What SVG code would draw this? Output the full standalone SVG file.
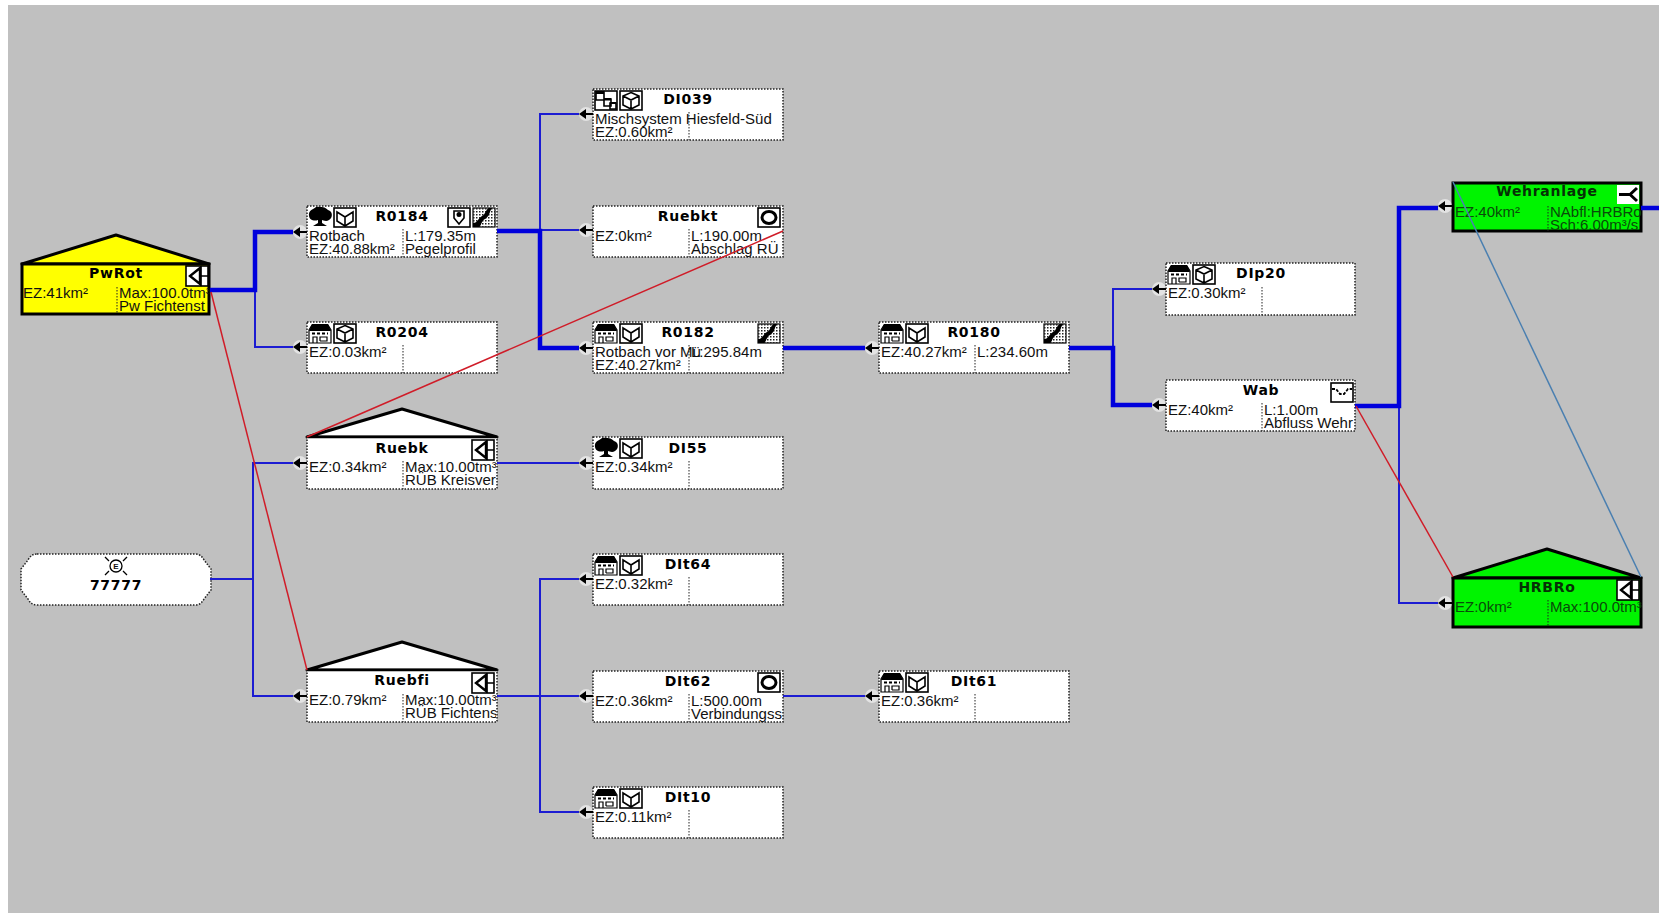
<svg xmlns="http://www.w3.org/2000/svg" width="1664" height="913" viewBox="0 0 1664 913">
<style>
text{font-family:"Liberation Sans",Arial,sans-serif;font-size:15px;fill:#111}
.t{font-family:"DejaVu Sans",sans-serif;font-size:14px;font-weight:bold;text-anchor:middle;letter-spacing:.7px;fill:#000}
.c{clip-path:url(#clipBox)}
.box{fill:#fff;stroke:#222;stroke-width:1.5;stroke-dasharray:1.5 1.5}
.solid{stroke:#000;stroke-width:3;stroke-dasharray:none}
.yellow{fill:#ffff00}
.green{fill:#00f400}
.g text{fill:#0a4a0a}
.g text.t{fill:#063006}
.div{stroke:#222;stroke-width:1;stroke-dasharray:1.5 1.5;fill:none}
.roof{stroke:#000;stroke-width:3;stroke-linejoin:round}
.white{fill:#fff}
.thick{fill:none;stroke:#0000dc;stroke-width:4.5}
.thin{fill:none;stroke:#1c1cd2;stroke-width:2}
.red{fill:none;stroke:#d01c28;stroke-width:1.5}
.steel{fill:none;stroke:#4a7fb0;stroke-width:1.5}
.ib{fill:#fff;stroke:#000;stroke-width:1.6}
.il{fill:none;stroke:#000;stroke-width:1.6}
.k{fill:#000}
</style>
<defs>
<clipPath id="clipBox"><rect x="1" y="0" width="188" height="52"/></clipPath>
<pattern id="dots" width="3" height="3" patternUnits="userSpaceOnUse"><rect width="1.500" height="1.500" fill="#222"/></pattern>
<g id="arrow"><circle cx="7" cy="0" r="7" fill="#fff" opacity=".55"/><polygon points="0,0 7,-5 7,5" fill="#000"/><path d="M6 0H14" stroke="#000" stroke-width="2"/></g>
<g id="house"><path d="M0 19V6L3 1H19L22 6V19Z" fill="#fff" stroke="#000" stroke-width="1.2"/><path d="M0 7L3 0H19L22 7Z" fill="#000"/><path d="M3 9.500H19" stroke="#000" stroke-width="2" stroke-dasharray="3 2"/><path d="M4 19V13H8V19M11 17V13H18V17H11" fill="none" stroke="#000" stroke-width="1.2"/></g>
<g id="tree"><path d="M0 9C-1 3 5 2 7 0C11-1 17 0 19 3C24 4 24 11 20 13C17 15 14 13 13 13V16L18 19H4L9 16V13C6 14 1 14 0 9Z" class="k"/></g>
<g id="book"><rect width="22" height="19" class="ib"/><path d="M3 4L11 9L19 4V13L11 18L3 13ZM11 9V18" class="il"/></g>
<g id="cube"><rect width="22" height="19" class="ib"/><path d="M11 1.500L19 5V14L11 18L3 14V5ZM3 5L11 9L19 5M11 9V18" class="il"/></g>
<g id="town"><rect width="22" height="19" class="ib"/><path d="M1 1H9V9H1ZM9 8H16V15H9ZM15 12H21V18H15Z" class="il"/><path d="M1 0H9V3H1ZM9 7H16V9.500H9ZM15 11H21V13H15Z" class="k"/></g>
<g id="ring"><rect width="22" height="19" class="ib"/><ellipse cx="11" cy="9.500" rx="7" ry="6" fill="none" stroke="#000" stroke-width="3"/></g>
<g id="terrain"><rect width="22" height="19" fill="#fff" stroke="#000" stroke-width="1.2"/><rect width="22" height="19" fill="url(#dots)"/><path d="M0 19V15C5 15 5 10 9 8C13 6 12 2 16 0H19C16 4 17 8 12 11C8 13 9 17 6 19Z" class="k"/></g>
<g id="pegel"><rect width="22" height="19" class="ib"/><path d="M6 3H16V10L11 16L6 10Z" class="il"/><circle cx="11" cy="6.500" r="2.500" class="k"/></g>
<g id="gate"><rect width="22" height="20" class="ib"/><path d="M14 2L4 10L14 18Z" fill="#fff" stroke="#000" stroke-width="2.400"/><path d="M15 0V20M15 10H22" class="il"/></g>
<g id="wave"><rect width="22" height="19" class="ib"/><path d="M1 6H5L9 11H13L17 6H21" fill="none" stroke="#000" stroke-width="1.800" stroke-dasharray="3 1.500"/></g>
<g id="split"><rect width="22" height="19" fill="#fff"/><path d="M2 9.500H13L20 3M13 9.500L20 16" fill="none" stroke="#000" stroke-width="3"/></g>
</defs>

<rect width="1664" height="913" fill="#fff"/>
<rect x="8" y="5" width="1651" height="908" fill="#c0c0c0"/>

<g id="nodes">
<g id="PwRot" transform="translate(22 264)">
<polygon points="0,0 94,-29 187,0" class="roof yellow"/>
<rect width="187" height="50" class="box solid yellow"/><path d="M95 23V50" class="div"/>
<use href="#gate" x="164" y="2"/><text class="t" x="94" y="14">PwRot</text>
<text x="1" y="34">EZ:41km²</text><text class="c" x="97" y="34">Max:100.0tm³</text><text class="c" x="97" y="47">Pw Fichtenst</text></g>

<g id="R0184" transform="translate(307 206)">
<rect width="190" height="51" class="box"/><path d="M96 23V51" class="div"/>
<use href="#tree" x="2" y="1"/><use href="#book" x="27" y="2"/><use href="#pegel" x="141" y="2"/><use href="#terrain" x="166" y="2"/>
<text class="t" x="95" y="15">R0184</text>
<text x="2" y="35">Rotbach</text><text x="2" y="48">EZ:40.88km²</text><text x="98" y="35">L:179.35m</text><text x="98" y="48">Pegelprofil</text></g>

<g id="R0204" transform="translate(307 322)">
<rect width="190" height="51" class="box"/><path d="M96 23V51" class="div"/>
<use href="#house" x="2" y="2"/><use href="#cube" x="27" y="2"/>
<text class="t" x="95" y="15">R0204</text><text x="2" y="35">EZ:0.03km²</text></g>

<g id="Ruebk" transform="translate(307 437)">
<polygon points="0,0 95,-28 190,0" class="roof white"/>
<rect width="190" height="52" class="box"/><path d="M0 0H190" stroke="#000" stroke-width="2.500"/><path d="M96 24V52" class="div"/>
<use href="#gate" x="165" y="3"/><text class="t" x="95" y="16">Ruebk</text>
<text x="2" y="35">EZ:0.34km²</text><text class="c" x="98" y="35">Max:10.00tm³</text><text class="c" x="98" y="48">RÜB Kreisver</text></g>

<g id="n77777" transform="translate(21 554)">
<path d="M16 0H174Q180 0 183 6L190 15V36L183 45Q180 51 174 51H16Q10 51 7 45L0 36V15L7 6Q10 0 16 0Z" class="box"/>
<g transform="translate(95 12)"><circle r="6" fill="none" stroke="#000" stroke-width="1.300"/><text x="0" y="3" text-anchor="middle" style="font-size:8px;font-weight:bold">E</text><path d="M-11-9L-7-5M11-9L7-5M-11 9L-7 5M11 9L7 5" stroke="#000" stroke-width="1.300"/></g>
<text class="t" x="95" y="36">77777</text></g>

<g id="Ruebfi" transform="translate(307 670)">
<polygon points="0,0 95,-28 190,0" class="roof white"/>
<rect width="190" height="52" class="box"/><path d="M0 0H190" stroke="#000" stroke-width="2.500"/><path d="M96 24V52" class="div"/>
<use href="#gate" x="165" y="3"/><text class="t" x="95" y="15">Ruebfi</text>
<text x="2" y="35">EZ:0.79km²</text><text class="c" x="98" y="35">Max:10.00tm³</text><text class="c" x="98" y="48">RÜB Fichtens</text></g>

<g id="DI039" transform="translate(593 89)">
<rect width="190" height="51" class="box"/><path d="M96 23V51" class="div"/>
<use href="#town" x="2" y="2"/><use href="#cube" x="27" y="2"/>
<text class="t" x="95" y="15">DI039</text><text class="c" x="2" y="35">Mischsystem Hiesfeld-Süd</text><text x="2" y="48">EZ:0.60km²</text></g>

<g id="Ruebkt" transform="translate(593 206)">
<rect width="190" height="51" class="box"/><path d="M96 23V51" class="div"/>
<use href="#ring" x="165" y="2"/><text class="t" x="95" y="15">Ruebkt</text>
<text x="2" y="35">EZ:0km²</text><text class="c" x="98" y="35">L:190.00m</text><text class="c" x="98" y="48">Abschlag RÜ</text></g>

<g id="R0182" transform="translate(593 322)">
<rect width="190" height="51" class="box"/><path d="M96 23V51" class="div"/>
<use href="#house" x="2" y="2"/><use href="#book" x="27" y="2"/><use href="#terrain" x="165" y="2"/>
<text class="t" x="95" y="15">R0182</text>
<text x="2" y="35">Rotbach vor Mü</text><text x="2" y="48">EZ:40.27km²</text><text x="98" y="35">L:295.84m</text></g>

<g id="DI55" transform="translate(593 437)">
<rect width="190" height="52" class="box"/><path d="M96 24V52" class="div"/>
<use href="#tree" x="2" y="1"/><use href="#book" x="27" y="2"/>
<text class="t" x="95" y="16">DI55</text><text x="2" y="35">EZ:0.34km²</text></g>

<g id="DIt64" transform="translate(593 554)">
<rect width="190" height="51" class="box"/><path d="M96 23V51" class="div"/>
<use href="#house" x="2" y="2"/><use href="#book" x="27" y="2"/>
<text class="t" x="95" y="15">DIt64</text><text x="2" y="35">EZ:0.32km²</text></g>

<g id="DIt62" transform="translate(593 671)">
<rect width="190" height="51" class="box"/><path d="M96 23V51" class="div"/>
<use href="#ring" x="165" y="2"/><text class="t" x="95" y="15">DIt62</text>
<text x="2" y="35">EZ:0.36km²</text><text class="c" x="98" y="35">L:500.00m</text><text class="c" x="98" y="48">Verbindungss</text></g>

<g id="DIt10" transform="translate(593 787)">
<rect width="190" height="51" class="box"/><path d="M96 23V51" class="div"/>
<use href="#house" x="2" y="2"/><use href="#book" x="27" y="2"/>
<text class="t" x="95" y="15">DIt10</text><text x="2" y="35">EZ:0.11km²</text></g>

<g id="R0180" transform="translate(879 322)">
<rect width="190" height="51" class="box"/><path d="M96 23V51" class="div"/>
<use href="#house" x="2" y="2"/><use href="#book" x="27" y="2"/><use href="#terrain" x="165" y="2"/>
<text class="t" x="95" y="15">R0180</text><text x="2" y="35">EZ:40.27km²</text><text x="98" y="35">L:234.60m</text></g>

<g id="DIt61" transform="translate(879 671)">
<rect width="190" height="51" class="box"/><path d="M96 23V51" class="div"/>
<use href="#house" x="2" y="2"/><use href="#book" x="27" y="2"/>
<text class="t" x="95" y="15">DIt61</text><text x="2" y="35">EZ:0.36km²</text></g>

<g id="DIp20" transform="translate(1166 263)">
<rect width="189" height="52" class="box"/><path d="M96 24V52" class="div"/>
<use href="#house" x="2" y="2"/><use href="#cube" x="27" y="2"/>
<text class="t" x="95" y="15">DIp20</text><text x="2" y="35">EZ:0.30km²</text></g>

<g id="Wab" transform="translate(1166 380)">
<rect width="189" height="51" class="box"/><path d="M96 23V51" class="div"/>
<use href="#wave" x="165" y="3"/><text class="t" x="95" y="15">Wab</text>
<text x="2" y="35">EZ:40km²</text><text class="c" x="98" y="35">L:1.00m</text><text class="c" x="98" y="48">Abfluss Wehr</text></g>

<g id="Wehranlage" class="g" transform="translate(1453 183)">
<rect width="188" height="48" class="box solid green"/><path d="M95 23V48" class="div"/>
<use href="#split" x="164" y="2"/><text class="t" x="94" y="13">Wehranlage</text>
<text x="2" y="34">EZ:40km²</text><text class="c" x="97" y="34">NAbfl:HRBRo</text><text class="c" x="97" y="47">Sch:6.00m³/s</text></g>

<g id="HRBRo" class="g" transform="translate(1453 578)">
<polygon points="0,0 94,-29 188,0" class="roof green"/>
<rect width="188" height="49" class="box solid green"/><path d="M95 22V49" class="div"/>
<use href="#gate" x="164" y="2"/><text class="t" x="94" y="14">HRBRo</text>
<text x="2" y="34">EZ:0km²</text><text class="c" x="97" y="34">Max:100.0tm³</text></g>
</g>

<g id="connectors">
<path class="thin" d="M255 290V347H293"/>
<path class="thin" d="M540 230V114H579"/>
<path class="thin" d="M540 230H579"/>
<path class="thin" d="M1113 348V289H1152"/>
<path class="thin" d="M1399 406V603H1438"/>
<path class="thin" d="M210 579H253"/>
<path class="thin" d="M293 463H253V696H293"/>
<path class="thin" d="M497 463H579"/>
<path class="thin" d="M497 696H579"/>
<path class="thin" d="M579 579H540V812H579"/>
<path class="thin" d="M783 696H865"/>
<path class="thick" d="M210 290H255V232H293"/>
<path class="thick" d="M497 231H540V348H579"/>
<path class="thick" d="M783 348H865"/>
<path class="thick" d="M1069 348H1113V405H1152"/>
<path class="thick" d="M1355 406H1399V208H1438"/>
<path class="thick" d="M1641 208H1659"/>
<path class="red" d="M211 292L307 670"/>
<path class="red" d="M307 437L783 231"/>
<path class="red" d="M1356 406L1453 577"/>
<path class="steel" d="M1453 182L1641 577"/>
<use href="#arrow" x="293" y="232"/><use href="#arrow" x="293" y="347"/><use href="#arrow" x="293" y="463"/><use href="#arrow" x="293" y="696"/>
<use href="#arrow" x="579" y="114"/><use href="#arrow" x="579" y="230"/><use href="#arrow" x="579" y="348"/><use href="#arrow" x="579" y="463"/><use href="#arrow" x="579" y="579"/><use href="#arrow" x="579" y="696"/><use href="#arrow" x="579" y="812"/>
<use href="#arrow" x="865" y="348"/><use href="#arrow" x="865" y="696"/>
<use href="#arrow" x="1152" y="289"/><use href="#arrow" x="1152" y="405"/>
<use href="#arrow" x="1438" y="206"/><use href="#arrow" x="1438" y="603"/>
</g>
</svg>
